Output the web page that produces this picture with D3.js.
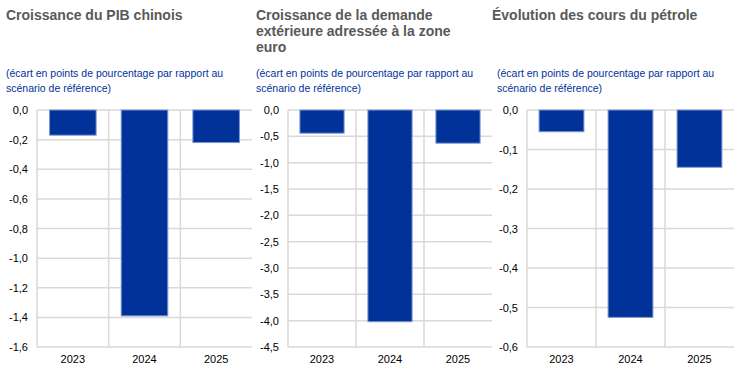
<!DOCTYPE html>
<html>
<head>
<meta charset="utf-8">
<script src="https://cdn.jsdelivr.net/npm/d3@7"></script>
<style>
  body { margin: 0; background: #fff; }
  svg { display: block; font-family: "Liberation Sans", Arial, sans-serif; }
</style>
</head>
<body>
<div id="chart"></div>
<script>
// data
const years = ["2023", "2024", "2025"];
const pibChinois = [-0.17, -1.39, -0.22];
const demandeExterieure = [-0.44, -4.02, -0.63];
const coursPetrole = [-0.055, -0.525, -0.145];

const ticksPib = [0, -0.2, -0.4, -0.6, -0.8, -1.0, -1.2, -1.4, -1.6];
const ticksDemande = [0, -0.5, -1.0, -1.5, -2.0, -2.5, -3.0, -3.5, -4.0, -4.5];
const ticksPetrole = [0, -0.1, -0.2, -0.3, -0.4, -0.5, -0.6];

const titlePib = ["Croissance du PIB chinois"];
const titleDemande = ["Croissance de la demande", "extérieure adressée à la zone", "euro"];
const titlePetrole = ["Évolution des cours du pétrole"];
const subtitle = ["(écart en points de pourcentage par rapport au", "scénario de référence)"];

const W = 744, H = 378;
const svg = d3.select("#chart").append("svg")
    .attr("width", W)
    .attr("height", H);

const fmt = d => d3.format(".1f")(d).replace("−", "-").replace(".", ",");

const panels = [
  {title: titlePib, values: pibChinois, ticks: ticksPib, x0: 6, xs: 6, left: 37, right: 252},
  {title: titleDemande, values: demandeExterieure, ticks: ticksDemande, x0: 256, xs: 256, left: 288, right: 492},
  {title: titlePetrole, values: coursPetrole, ticks: ticksPetrole, x0: 492, xs: 497, left: 527, right: 734}
];

const plotTop = 110, plotBottom = 347;

panels.forEach(function(p) {
  const g = svg.append("g");

  // title
  g.append("text")
      .attr("x", p.x0)
      .attr("y", 20)
      .attr("fill", "#595959")
      .style("font-size", "14px")
      .style("font-weight", "bold")
    .selectAll("tspan")
    .data(p.title)
    .join("tspan")
      .attr("x", p.x0)
      .attr("dy", (d, i) => i === 0 ? 0 : 16)
      .text(d => d);

  // subtitle
  g.append("text")
      .attr("x", p.xs)
      .attr("y", 77)
      .attr("fill", "#003299")
      .style("font-size", "10.5px")
    .selectAll("tspan")
    .data(subtitle)
    .join("tspan")
      .attr("x", p.xs)
      .attr("dy", (d, i) => i === 0 ? 0 : 15)
      .text(d => d);

  const x = d3.scaleBand()
      .domain(years)
      .range([p.left, p.right])
      .paddingInner(0.35)
      .paddingOuter(0.175);

  const y = d3.scaleLinear()
      .domain([0, d3.min(p.ticks)])
      .range([plotTop, plotBottom]);

  const step = x.step();

  // horizontal gridlines
  g.append("g")
    .selectAll("line")
    .data(p.ticks)
    .join("line")
      .attr("x1", p.left)
      .attr("x2", p.right)
      .attr("y1", d => y(d))
      .attr("y2", d => y(d))
      .attr("stroke", "#d9d9d9")
      .attr("stroke-width", 1.5);

  // vertical separators
  g.append("g")
    .selectAll("line")
    .data(d3.range(years.length))
    .join("line")
      .attr("x1", i => p.left + i * step)
      .attr("x2", i => p.left + i * step)
      .attr("y1", plotTop)
      .attr("y2", plotBottom)
      .attr("stroke", "#d9d9d9")
      .attr("stroke-width", 1.5);

  // bars
  g.append("g")
    .selectAll("rect")
    .data(p.values)
    .join("rect")
      .attr("x", (d, i) => x(years[i]))
      .attr("y", y(0))
      .attr("width", x.bandwidth())
      .attr("height", d => y(d) - y(0))
      .attr("fill", "#003299")
      .attr("stroke", "#7f97d0")
      .attr("stroke-width", 1);

  // y tick labels
  g.append("g")
    .selectAll("text")
    .data(p.ticks)
    .join("text")
      .attr("x", p.left - 9)
      .attr("y", d => y(d) + 4)
      .attr("text-anchor", "end")
      .attr("fill", "#000")
      .style("font-size", "11px")
      .text(d => fmt(d));

  // x labels
  g.append("g")
    .selectAll("text")
    .data(years)
    .join("text")
      .attr("x", d => x(d) + x.bandwidth() / 2)
      .attr("y", 363)
      .attr("text-anchor", "middle")
      .attr("fill", "#000")
      .style("font-size", "11px")
      .text(d => d);
});
</script>
</body>
</html>
